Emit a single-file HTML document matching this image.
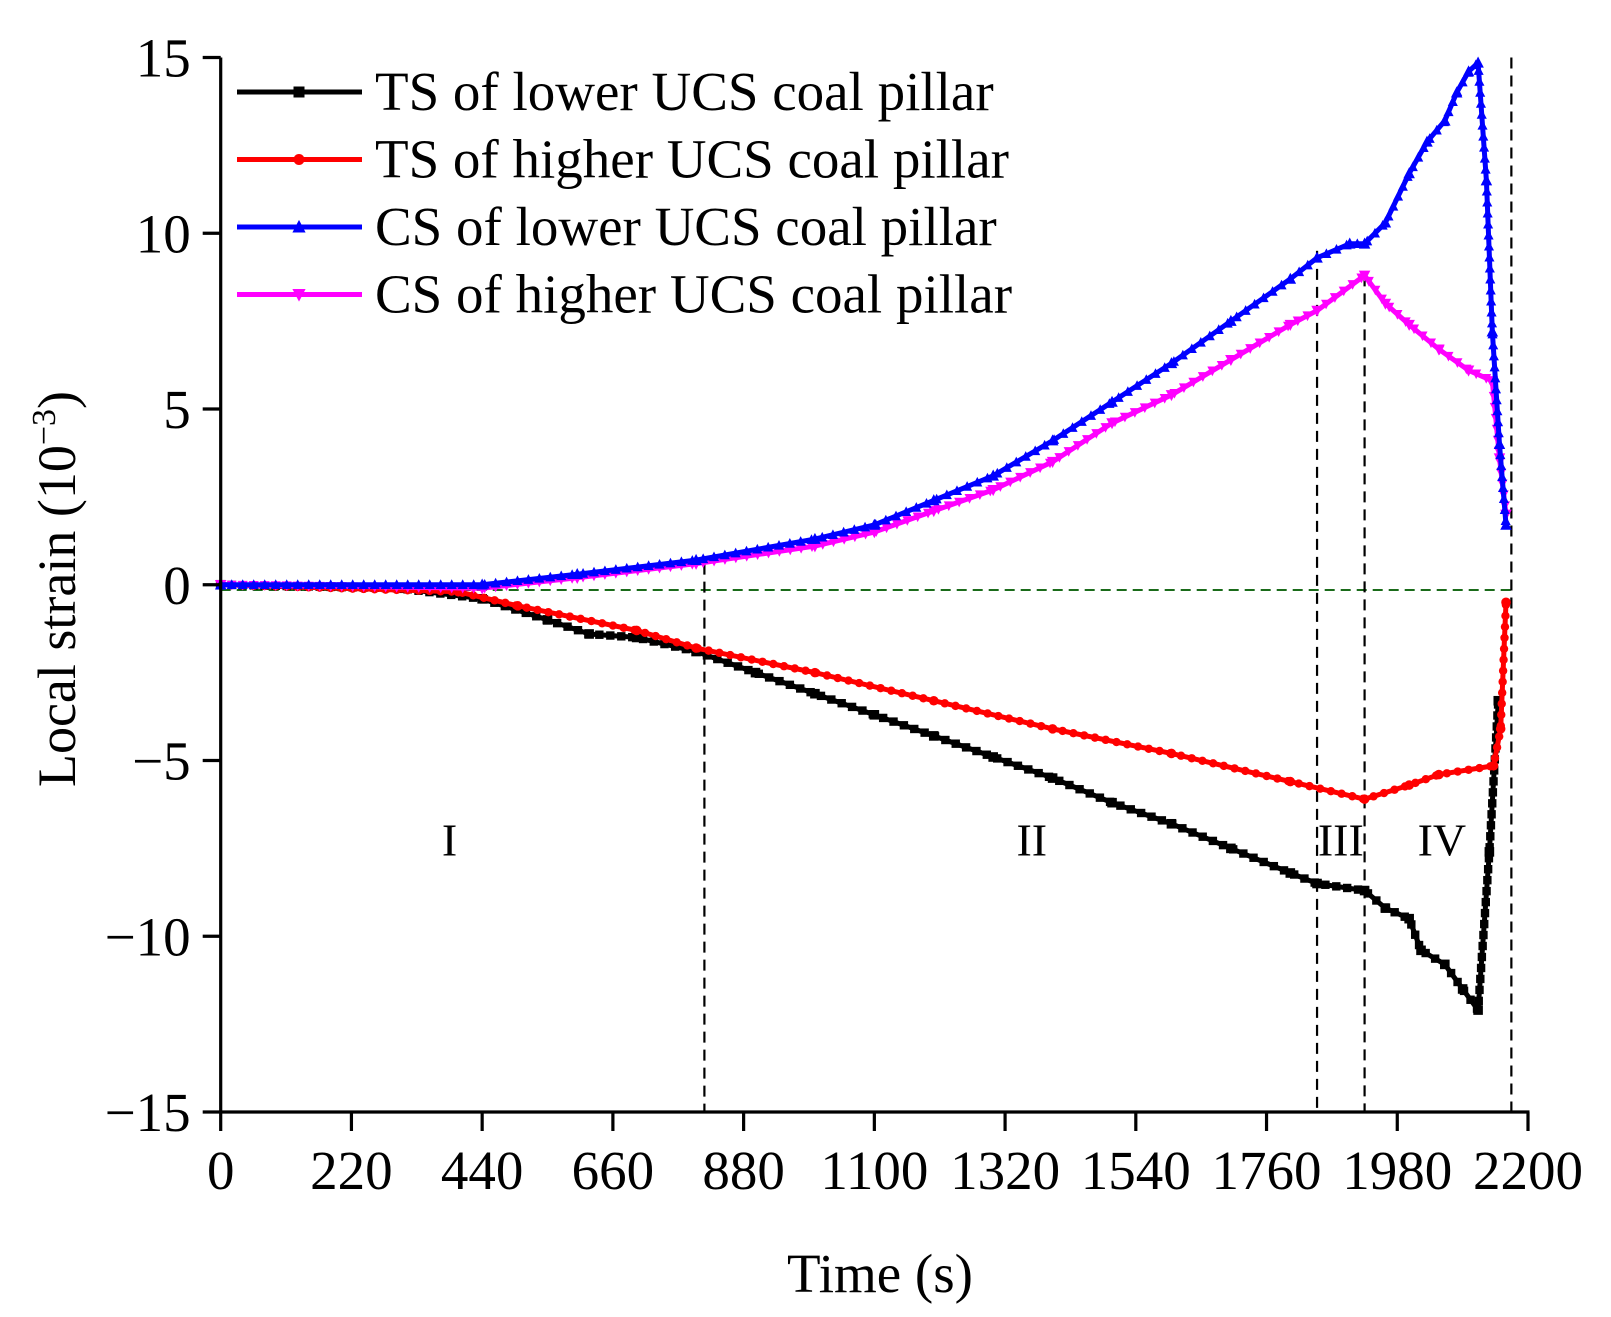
<!DOCTYPE html>
<html><head><meta charset="utf-8"><style>html,body{margin:0;padding:0;background:#fff}svg{display:block}text{font-family:"Liberation Serif",serif;fill:#000}</style></head>
<body>
<svg id="chart" width="1611" height="1317" viewBox="0 0 1611 1317">
<g id="grid"></g>
<g id="series"></g>
<g id="axes"></g>
<g id="legend"></g>
</svg>
<script>
const xTicks=[0,220,440,660,880,1100,1320,1540,1760,1980,2200];
const yTicks=[15,10,5,0,-5,-10,-15];
const tsLowT=[0,300,440,550,620,700,800,900,1000,1100,1200,1300,1400,1500,1600,1700,1800,1845,1925,1960,2000,2020,2060,2090,2116,2135,2150];
const tsLowV=[0,-0.1,-0.4,-1.0,-1.4,-1.5,-1.9,-2.5,-3.1,-3.7,-4.3,-4.9,-5.5,-6.2,-6.8,-7.5,-8.2,-8.5,-8.7,-9.2,-9.5,-10.4,-10.8,-11.5,-12.1,-7.6,-3.3];
const tsHighT=[0,400,500,700,800,1000,1200,1400,1600,1800,1925,2000,2050,2142,2154,2163];
const tsHighV=[0,-0.2,-0.6,-1.3,-1.8,-2.5,-3.3,-4.1,-4.8,-5.6,-6.1,-5.7,-5.4,-5.15,-4.1,-0.5];
const csLowT=[0,440,600,800,1000,1100,1200,1300,1400,1500,1600,1700,1800,1845,1900,1925,1960,2000,2030,2060,2080,2100,2116,2130,2140,2152,2163];
const csLowV=[0,0,0.3,0.7,1.3,1.7,2.4,3.1,4.1,5.2,6.3,7.5,8.7,9.3,9.7,9.7,10.3,11.7,12.6,13.2,14.0,14.6,14.85,11.5,7.2,4.0,1.7];
const csHighT=[0,440,600,800,1000,1100,1200,1300,1400,1500,1600,1700,1800,1845,1925,1960,2000,2050,2100,2140,2152,2163];
const csHighV=[0,-0.1,0.2,0.6,1.1,1.5,2.1,2.7,3.5,4.6,5.4,6.4,7.4,7.8,8.8,8.0,7.4,6.7,6.1,5.8,3.6,2.0];
const stageT=[814,1845,1925,2172];
const stageTop=[0.6,9.5,8.8,15];
const stageLabels=["I","II","III","IV"];
const stageLabelT=[385,1365,1885,2055];

const NS="http://www.w3.org/2000/svg";
const X0=220.7,X1=1528,Y15=57.5,Ym15=1112;
const xs=t=>X0+(t/2200)*(X1-X0);
const ys=v=>Y15+(15-v)/30*(Ym15-Y15);
function mk(tag,attrs,parent){const e=document.createElementNS(NS,tag);for(const k in attrs)e.setAttribute(k,attrs[k]);parent.appendChild(e);return e;}
const grid=document.getElementById('grid'),ser=document.getElementById('series'),axes=document.getElementById('axes'),leg=document.getElementById('legend');

let hl=mk('line',{x1:X0,x2:xs(2172),y1:ys(-0.15),y2:ys(-0.15),stroke:'#1a6b1a','stroke-width':2,'stroke-dasharray':'10 6'},grid);


stageT.forEach((t,i)=>{
 const l=mk('line',{x1:xs(t),x2:xs(t),y1:ys(stageTop[i]),y2:Ym15,stroke:'#000','stroke-width':2.2,'stroke-dasharray':'11 7'},grid);
 
 
});
stageLabels.forEach((s,i)=>{
 const tx=mk('text',{x:xs(stageLabelT[i]),y:ys(-7.7),'font-size':46,'text-anchor':'middle'},grid);
 tx.textContent=s;
 
 
});

function marker(type,x,y,color,parent,r){
 let m;
 if(type==='sq')m=mk('rect',{x:x-r,y:y-r,width:2*r,height:2*r,fill:color},parent);
 else if(type==='ci')m=mk('circle',{cx:x,cy:y,r:r,fill:color},parent);
 else if(type==='up')m=mk('polygon',{points:`${x},${y-r*1.3} ${x-r*1.2},${y+r} ${x+r*1.2},${y+r}`,fill:color},parent);
 else m=mk('polygon',{points:`${x},${y+r*1.3} ${x-r*1.2},${y-r} ${x+r*1.2},${y-r}`,fill:color},parent);
 return m;
}
function drawSeries(T,V,color,type,name){
 const g=mk('g',{},ser);
 
 
 const pts=T.map((t,i)=>xs(t)+','+ys(V[i])).join(' ');
 const pl=mk('polyline',{points:pts,fill:'none',stroke:color,'stroke-width':5,'stroke-linejoin':'round'},g);
 
 
 const L=pl.getTotalLength();
 for(let d=0;d<=L;d+=11){
  const p=pl.getPointAtLength(d);
  const m=marker(type,p.x,p.y,color,g,4.2);
  
  
 }
 T.forEach((t,i)=>{
  const m=marker(type,xs(t),ys(V[i]),color,g,4.8);
  
  
 });
}
drawSeries(tsLowT,tsLowV,'#000','sq','ts-lower-ucs');
drawSeries(tsHighT,tsHighV,'#ff0000','ci','ts-higher-ucs');
drawSeries(csHighT,csHighV,'#ff00ff','dn','cs-higher-ucs');
drawSeries(csLowT,csLowV,'#0000ff','up','cs-lower-ucs');

let a=mk('line',{x1:X0,x2:X0,y1:Y15,y2:Ym15+1.5,stroke:'#000','stroke-width':3.2},axes);

a=mk('line',{x1:X0-1.5,x2:X1+1.5,y1:Ym15,y2:Ym15,stroke:'#000','stroke-width':3.2},axes);

yTicks.forEach(v=>{
 const t=mk('line',{x1:X0-18,x2:X0,y1:ys(v),y2:ys(v),stroke:'#000','stroke-width':3.2},axes);
 
 const tx=mk('text',{x:X0-30,y:ys(v)+19,'font-size':55,'text-anchor':'end'},axes);
 tx.textContent=v<0?'\u2212'+(-v):String(v);
 
});
xTicks.forEach(v=>{
 const t=mk('line',{x1:xs(v),x2:xs(v),y1:Ym15,y2:Ym15+19,stroke:'#000','stroke-width':3.2},axes);
 
 const tx=mk('text',{x:xs(v),y:Ym15+77,'font-size':55,'text-anchor':'middle'},axes);
 tx.textContent=String(v);
 
});
let xt=mk('text',{x:880,y:1292,'font-size':55,'text-anchor':'middle'},axes);
xt.textContent='Time (s)';

let yt=mk('text',{x:0,y:0,'font-size':54,'text-anchor':'middle',transform:'translate(75,589) rotate(-90)'},axes);
yt.innerHTML='Local strain (10<tspan dy="-20" font-size="34">\u22123</tspan><tspan dy="20">)</tspan>';


const legNames=['TS of lower UCS coal pillar','TS of higher UCS coal pillar','CS of lower UCS coal pillar','CS of higher UCS coal pillar'];
const legColors=['#000','#ff0000','#0000ff','#ff00ff'];
const legTypes=['sq','ci','up','dn'];
legNames.forEach((n,i)=>{
 const y=92+i*67.5;
 const g=mk('g',{},leg);
 
 mk('line',{x1:237,x2:362,y1:y,y2:y,stroke:legColors[i],'stroke-width':5},g);
 marker(legTypes[i],299,y,legColors[i],g,5.5);
 const tx=mk('text',{x:375,y:y+18,'font-size':55},g);
 tx.textContent=n;
});
</script>
</body></html>
